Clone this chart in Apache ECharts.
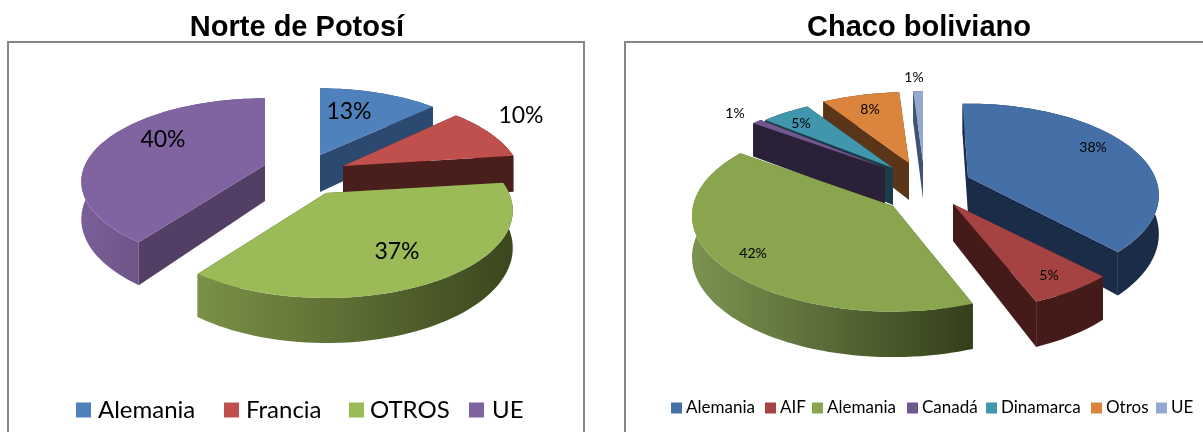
<!DOCTYPE html>
<html><head><meta charset="utf-8">
<style>html,body{margin:0;padding:0;background:#fff}#c{width:1203px;height:432px}</style>
<script src="https://cdn.jsdelivr.net/npm/echarts@6/dist/echarts.min.js"></script>
</head><body><div id="c"></div>
<script>
// ---- data
const titleA = 'Norte de Potosí';
const categoriesA = ['Alemania', 'Francia', 'OTROS', 'UE'];
const valuesA = [13, 10, 37, 40];
const titleB = 'Chaco boliviano';
const categoriesB = ['Alemania', 'AIF', 'Alemania', 'Canadá', 'Dinamarca', 'Otros', 'UE'];
const valuesB = [38, 5, 42, 1, 5, 8, 1];

// ---- styles
const topColorsA = ['#4f81bd', '#c0504d', '#9bbb59', '#8064a2'];
const cutColorsA = ['#2c4a70', '#4a1e1c', '#3e4a20', '#533f66'];
const wallFromA = ['#2c4a70', '#4a1e1c', '#7a9147', '#7a5f98'];
const wallToA = ['#2c4a70', '#4a1e1c', '#3b461d', '#4f3c66'];
const topColorsB = ['#4470a7', '#a44341', '#89a54e', '#71578f', '#4096ac', '#db843d', '#93a9cf'];
const cutColorsB = ['#1a2c47', '#451b1a', '#343f1b', '#2a2037', '#1a3d47', '#5b3518', '#3f5272'];
const wallFromB = ['#1a2c47', '#451b1a', '#7b9450', '#2a2037', '#1a3d47', '#5b3518', '#3f5272'];
const wallToB = ['#1a2c47', '#451b1a', '#343f1b', '#2a2037', '#1a3d47', '#5b3518', '#3f5272'];

// ---- layout: per-slice pie tip, radii, depth, perspective, paint order
const layoutA = {
  apexX: [320, 343, 326, 265], apexY: [155, 166, 193, 165], rx: [176, 176, 183, 180],
  ry: [80, 84, 84, 80], depth: [37, 37, 36, 36], persp: [0.2, 0.2, 0.2, 0.2],
  paint: [0, 1, 3, 2], shift: [0, 0, 0, 0],
  labelX: [349, 521, 397, 163], labelY: [112, 116, 252, 140], labelSize: 23
};
const layoutB = {
  apexX: [968, 953, 893, 885, 893, 909, 923], apexY: [177, 204, 206, 168, 168, 163, 162],
  rx: [187, 187, 200, 182, 187, 187, 187],
  ry: [88, 85, 95, 85, 85, 85, 85], depth: [37, 37, 41, 37, 37, 37, 37],
  persp: [0.2, 0.2, 0.1, 0.2, 0.2, 0.2, 0.2],
  paint: [6, 5, 4, 3, 2, 0, 1], shift: [-2, 0, 4, 0, 0, 0, 0],
  labelX: [1093, 1049, 753, 735, 801, 870, 914], labelY: [147, 275, 253, 113, 123, 109, 77], labelSize: 14
};

function pt(L, i, deg, drop) {
  const t = deg * Math.PI / 180, X = Math.sin(t), Z = Math.cos(t), s = 1 / (1 + L.persp[i] * Z);
  return [L.apexX[i] + L.rx[i] * X * s, L.apexY[i] - L.ry[i] * Z * s + (drop ? L.depth[i] * s : 0)];
}
function grad(a, b) {
  return new echarts.graphic.LinearGradient(0, 0, 1, 0, [{offset: 0, color: a}, {offset: 1, color: b}]);
}
function makeRender(values, L, tops, cuts, wf, wt) {
  const total = values.reduce((a, b) => a + b, 0);
  return function (params, api) {
    const i = params.dataIndex, v = api.value(0);
    const before = values.slice(0, i).reduce((a, b) => a + b, 0);
    const a = before / total * 360 + L.shift[i], b = (before + v) / total * 360 + (L.shift[i + 1] || 0);
    const z = L.paint.indexOf(i) * 10 + 1;
    const topEdge = [], lowEdge = [];
    for (let d = a; d < b; d += 2) { topEdge.push(pt(L, i, d, false)); lowEdge.push(pt(L, i, d, true)); }
    topEdge.push(pt(L, i, b, false)); lowEdge.push(pt(L, i, b, true));
    const apex = [L.apexX[i], L.apexY[i]], apexLow = [apex[0], apex[1] + L.depth[i]];
    const n = topEdge.length - 1;
    const poly = (points, fill, zz) => ({type: 'polygon', shape: {points}, style: {fill}, z2: z + zz, silent: true});
    return {type: 'group', children: [
      poly([apex, topEdge[0], lowEdge[0], apexLow], cuts[i], 0),
      poly([apex, topEdge[n], lowEdge[n], apexLow], cuts[i], 0),
      poly(topEdge.concat(lowEdge.slice().reverse()), grad(wf[i], wt[i]), 1),
      poly([apex].concat(topEdge), tops[i], 2),
      {type: 'text', z2: 500, silent: true, style: {
        text: v + '%', x: L.labelX[i], y: L.labelY[i], align: 'center', verticalAlign: 'middle',
        font: L.labelSize + 'px Lato', fill: '#000'}}
    ]};
  };
}

// ---- legends and frames
const legendXA = [76, 224, 349, 469], legendTextXA = [98, 246, 370, 492];
const legendXB = [671, 765, 812, 907, 986, 1091, 1156], legendTextXB = [686, 780, 827, 922, 1001, 1106, 1171];
function legend(names, colors, xs, txs, size, y, font) {
  const out = [];
  names.forEach((n, i) => {
    out.push({type: 'rect', shape: {x: xs[i], y: y - size / 2, width: size, height: size}, style: {fill: colors[i]}});
    out.push({type: 'text', x: txs[i], y: y, style: {text: n, font: font, fill: '#000', textAlign: 'left', textVerticalAlign: 'middle'}});
  });
  return out;
}
const frameStyle = {fill: '#fff', stroke: '#868686', lineWidth: 2};
const graphics = [
  {type: 'rect', z: -1, shape: {x: 8, y: 42, width: 576, height: 420}, style: frameStyle},
  {type: 'rect', z: -1, shape: {x: 625, y: 42, width: 600, height: 420}, style: frameStyle}
].concat(
  legend(categoriesA, topColorsA, legendXA, legendTextXA, 15, 410, '24px Lato'),
  legend(categoriesB, topColorsB, legendXB, legendTextXB, 11, 408, '17px Lato')
);

const titleStyle = {fontFamily: 'Liberation Sans', fontWeight: 'bold', fontSize: 29, color: '#000'};
const chart = echarts.init(document.getElementById('c'), null, {renderer: 'canvas'});
chart.setOption({
  animation: false,
  backgroundColor: '#fff',
  title: [
    {text: titleA, left: 292, top: 8, textAlign: 'center', textStyle: titleStyle},
    {text: titleB, left: 914, top: 8, textAlign: 'center', textStyle: titleStyle}
  ],
  graphic: graphics,
  series: [
    {type: 'custom', name: titleA, coordinateSystem: 'none', z: 5, clip: false,
     renderItem: makeRender(valuesA, layoutA, topColorsA, cutColorsA, wallFromA, wallToA),
     data: valuesA.map((v, i) => ({name: categoriesA[i], value: [v]}))},
    {type: 'custom', name: titleB, coordinateSystem: 'none', z: 5, clip: false,
     renderItem: makeRender(valuesB, layoutB, topColorsB, cutColorsB, wallFromB, wallToB),
     data: valuesB.map((v, i) => ({name: categoriesB[i], value: [v]}))}
  ]
});
</script></body></html>
